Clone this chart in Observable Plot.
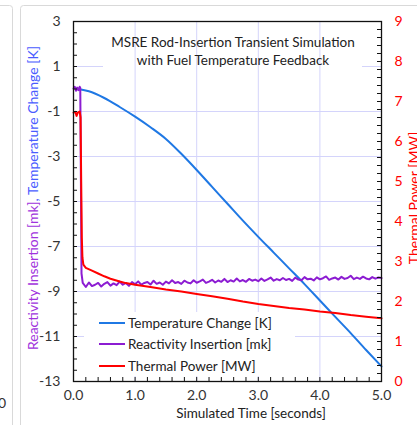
<!DOCTYPE html>
<html><head><meta charset="utf-8">
<script src="https://cdn.jsdelivr.net/npm/d3@7"></script>
<script src="https://cdn.jsdelivr.net/npm/@observablehq/plot@0.6"></script>
<style>body{margin:0;background:#fff;} #chart{width:417px;height:425px;overflow:hidden;position:relative;}</style>
</head><body><div id="chart"></div>
<script>
// ---- data ----
const tempTime = [0.08, 0.25, 0.5, 0.75, 1.0, 1.25, 1.5, 1.75, 2.0, 2.25, 2.5, 2.75, 3.0, 3.25, 3.5, 3.75, 4.0, 4.25, 4.5, 4.75, 5.0];
const tempChange = [0.0, -0.1, -0.4, -0.8, -1.23, -1.7, -2.22, -2.88, -3.6, -4.35, -5.1, -5.85, -6.57, -7.27, -7.97, -8.67, -9.4, -10.13, -10.85, -11.6, -12.33];

const reactTime = [0.00, 0.02, 0.04, 0.06, 0.08, 0.10, 0.11, 0.12, 0.13, 0.15,
  0.20, 0.25, 0.30, 0.35, 0.40, 0.45, 0.50, 0.55, 0.60, 0.65, 0.70, 0.75, 0.80, 0.85, 0.90, 0.95,
  1.00, 1.05, 1.10, 1.15, 1.20, 1.25, 1.30, 1.35, 1.40, 1.45, 1.50, 1.55, 1.60, 1.65, 1.70, 1.75, 1.80, 1.85, 1.90, 1.95,
  2.00, 2.05, 2.10, 2.15, 2.20, 2.25, 2.30, 2.35, 2.40, 2.45, 2.50, 2.55, 2.60, 2.65, 2.70, 2.75, 2.80, 2.85, 2.90, 2.95,
  3.00, 3.05, 3.10, 3.15, 3.20, 3.25, 3.30, 3.35, 3.40, 3.45, 3.50, 3.55, 3.60, 3.65, 3.70, 3.75, 3.80, 3.85, 3.90, 3.95,
  4.00, 4.05, 4.10, 4.15, 4.20, 4.25, 4.30, 4.35, 4.40, 4.45, 4.50, 4.55, 4.60, 4.65, 4.70, 4.75, 4.80, 4.85, 4.90, 4.95, 5.00];
const reactivity = [0.02, 0.10, -0.08, 0.06, -0.05, 0.10, 0.05, -4.0, -8.2, -8.62,
  -8.80, -8.60, -8.76, -8.70, -8.62, -8.78, -8.66, -8.58, -8.74, -8.64, -8.72, -8.56, -8.70, -8.62, -8.75, -8.58,
  -8.68, -8.55, -8.70, -8.62, -8.58, -8.69, -8.52, -8.66, -8.60, -8.70, -8.56, -8.64, -8.50, -8.62, -8.58, -8.66, -8.52, -8.60, -8.64, -8.50,
  -8.61, -8.55, -8.47, -8.62, -8.56, -8.48, -8.60, -8.51, -8.57, -8.44, -8.58, -8.50, -8.56, -8.42, -8.55, -8.49, -8.57, -8.44, -8.52, -8.47,
  -8.54, -8.42, -8.53, -8.46, -8.38, -8.52, -8.45, -8.50, -8.40, -8.49, -8.44, -8.53, -8.38, -8.47, -8.50, -8.36, -8.46, -8.43, -8.51, -8.37,
  -8.46, -8.41, -8.33, -8.48, -8.42, -8.38, -8.47, -8.35, -8.44, -8.40, -8.30, -8.45, -8.38, -8.44, -8.34, -8.42, -8.46, -8.36, -8.43, -8.38, -8.40];

const powerTime = [0.00, 0.03, 0.05, 0.07, 0.10, 0.115, 0.125, 0.135, 0.145, 0.16, 0.20, 0.30, 0.40, 0.50, 0.60, 0.75, 0.85, 1.00, 1.25, 1.50, 1.75, 2.00, 2.25, 2.50, 2.75, 3.00, 3.25, 3.50, 3.75, 4.00, 4.25, 4.50, 4.75, 5.00];
const thermalPower = [6.72, 6.74, 6.64, 6.72, 6.75, 6.6, 5.0, 3.6, 3.1, 2.92, 2.84, 2.77, 2.70, 2.63, 2.57, 2.50, 2.46, 2.42, 2.36, 2.30, 2.25, 2.19, 2.13, 2.07, 2.00, 1.94, 1.89, 1.84, 1.80, 1.75, 1.71, 1.66, 1.62, 1.58];

const xTicks = [0, 1, 2, 3, 4, 5];
const yTicks = [3, 1, -1, -3, -5, -7, -9, -11, -13];
const powerTicks = [0, 1, 2, 3, 4, 5, 6, 7, 8, 9];
const seriesNames = ["Temperature Change [K]", "Reactivity Insertion [mk]", "Thermal Power [MW]"];
const titleLines = ["MSRE Rod-Insertion Transient Simulation", "with Fuel Temperature Feedback"];

// ---- styling ----
const BLUE = "#1f78e4", PURPLE = "#8c1cd2", RED = "#ff0000", GRID = "#d4d4fb";
const FONT = "Lato, 'Open Sans', sans-serif";
const powerToLeft = p => -13 + p * 16 / 9;

const tempRows = tempTime.map((t, i) => ({t, v: tempChange[i]}));
const reactRows = reactTime.map((t, i) => ({t, v: reactivity[i]}));
const powerRows = powerTime.map((t, i) => ({t, v: thermalPower[i]}));

const xMinor = d3.range(0, 5.0001, 0.2);
const yMinor = d3.range(-13, 3.0001, 0.5);
const pMinor = d3.range(0, 9.0001, 0.2);

const chart = Plot.plot({
  width: 417, height: 425,
  marginLeft: 73, marginRight: 36, marginTop: 21, marginBottom: 44,
  style: {fontFamily: FONT, fontSize: "14px", color: "#333", background: "transparent", overflow: "visible"},
  x: {domain: [0, 5]},
  y: {domain: [-13, 3]},
  marks: [
    Plot.ruleX([1, 2, 3, 4], {stroke: GRID}),
    Plot.ruleY([-11, -9, -7, -5, -3, -1], {stroke: GRID}),
    Plot.ruleY([1], {stroke: GRID, insetRight: 278}),
    Plot.ruleY([1], {stroke: GRID, insetLeft: 289}),
    Plot.line(tempRows, {x: "t", y: "v", stroke: BLUE, strokeWidth: 2, curve: "monotone-x"}),
    Plot.line(reactRows, {x: "t", y: "v", stroke: PURPLE, strokeWidth: 2}),
    Plot.line(powerRows, {x: "t", y: d => powerToLeft(d.v), stroke: RED, strokeWidth: 2}),
    Plot.ruleX(xMinor, {insetTop: 356, stroke: "#111"}),
    Plot.ruleY(yMinor, {insetRight: 304, stroke: "#111"}),
    Plot.ruleY(pMinor.map(powerToLeft), {insetLeft: 304, stroke: "#111"}),
    Plot.frame({stroke: "#111", strokeWidth: 1.3}),
    Plot.axisX({ticks: xTicks, tickSize: 0, tickPadding: 9, tickFormat: d3.format(".1f"), label: null, fill: "#333"}),
    Plot.axisY({ticks: yTicks, tickSize: 0, tickPadding: 13, tickFormat: d => String(d), label: null, fill: "#333"}),
    Plot.axisY({anchor: "right", ticks: powerTicks.map(powerToLeft), tickFormat: d => String(Math.round((d + 13) * 9 / 16)), tickSize: 0, tickPadding: 13, label: null, fill: RED})
  ]
});
document.getElementById("chart").appendChild(chart);

const svg = d3.select(chart);
// legend background below the data lines
svg.insert("rect", 'g[aria-label="line"]').attr("x", 84).attr("y", 312).attr("width", 211).attr("height", 64).attr("fill", "white");

// card borders
svg.append("rect").attr("x", -20).attr("y", 5.5).attr("width", 32.5).attr("height", 500).attr("rx", 3).attr("fill", "none").attr("stroke", "#d9d9d9");
svg.append("rect").attr("x", 20.5).attr("y", 5.5).attr("width", 420).attr("height", 500).attr("rx", 3).attr("fill", "none").attr("stroke", "#d9d9d9");
svg.append("text").attr("x", 6).attr("y", 408).attr("text-anchor", "end").attr("font-family", FONT).attr("font-size", 14).attr("fill", "#333").text("0");

// title
const tg = svg.append("g").attr("font-family", FONT).attr("font-size", 13.5).attr("fill", "#222").attr("text-anchor", "middle");
tg.append("text").attr("x", 233).attr("y", 46.5).text(titleLines[0]);
tg.append("text").attr("x", 233).attr("y", 65).text(titleLines[1]);

// axis titles
svg.append("text").attr("x", 251).attr("y", 418).attr("text-anchor", "middle").attr("font-family", FONT).attr("font-size", 13.5).attr("fill", "#222").text("Simulated Time [seconds]");
const lt = svg.append("text").attr("transform", "translate(37.5,198) rotate(-90)").attr("text-anchor", "middle").attr("font-family", FONT).attr("font-size", 14);
lt.append("tspan").attr("fill", "#a033dd").text("Reactivity Insertion [mk]");
lt.append("tspan").attr("fill", "#4a5cff").text(", Temperature Change [K]");
svg.append("text").attr("transform", "translate(419,198) rotate(-90)").attr("text-anchor", "middle").attr("font-family", FONT).attr("font-size", 14).attr("fill", RED).text("Thermal Power [MW]");

// legend
const colors = [BLUE, PURPLE, RED];
const lg = svg.append("g").attr("font-family", FONT).attr("font-size", 13.5).attr("fill", "#222").attr("text-anchor", "start");
[323, 344, 366].forEach((y, i) => {
  lg.append("line").attr("x1", 99).attr("x2", 125).attr("y1", y).attr("y2", y).attr("stroke", colors[i]).attr("stroke-width", 2);
  lg.append("text").attr("x", 128).attr("y", y + 4.8).attr("text-anchor", "start").text(seriesNames[i]);
});
</script></body></html>
